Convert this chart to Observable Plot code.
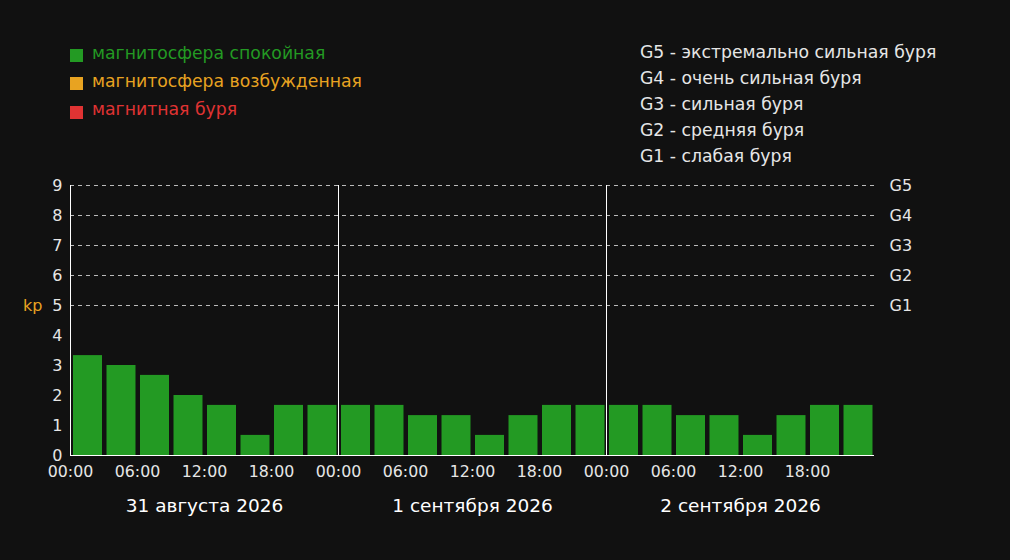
<!DOCTYPE html>
<html>
<head>
<meta charset="utf-8">
<script src="https://cdn.jsdelivr.net/npm/d3@7"></script>
<script src="https://cdn.jsdelivr.net/npm/@observablehq/plot@0.6"></script>
<style>
  html, body { margin: 0; padding: 0; background: #111111; }
  body { width: 1010px; height: 560px; position: relative; overflow: hidden; font-family: "DejaVu Sans", sans-serif; }
  #chart { position: absolute; left: 0; top: 0; z-index: 0; }
  .sw { position: absolute; left: 70px; width: 13px; height: 13px; z-index: 2; }
  .leg { position: absolute; left: 92px; font-size: 17.25px; line-height: 20px; white-space: nowrap; z-index: 2; }
  .scale { position: absolute; left: 640px; top: 39px; color: #e6e6e6; font-size: 17.25px; line-height: 26px; white-space: nowrap; z-index: 2; }
</style>
</head>
<body>
<div id="chart"></div>
<div id="legend"></div>
<div class="scale" id="scale"></div>
<script>
// ---- data ----
const days = ["2026-08-31", "2026-09-01", "2026-09-02"];
const dayLabels = ["31 августа 2026", "1 сентября 2026", "2 сентября 2026"];
const hours = [0, 3, 6, 9, 12, 15, 18, 21];
const kpDay1 = [3.33, 3.0, 2.67, 2.0, 1.67, 0.67, 1.67, 1.67];
const kpDay2 = [1.67, 1.67, 1.33, 1.33, 0.67, 1.33, 1.67, 1.67];
const kpDay3 = [1.67, 1.67, 1.33, 1.33, 0.67, 1.33, 1.67, 1.67];
const gLevels = [5, 6, 7, 8, 9];
const gLabels = ["G1", "G2", "G3", "G4", "G5"];
const scaleTexts = ["G5 - экстремально сильная буря", "G4 - очень сильная буря", "G3 - сильная буря", "G2 - средняя буря", "G1 - слабая буря"];
const legendItems = ["магнитосфера спокойная", "магнитосфера возбужденная", "магнитная буря"];
const legendColors = ["#239a23", "#e8a321", "#e03333"];
const yTicks = [0, 1, 2, 3, 4, 5, 6, 7, 8, 9];

// ---- build table ----
const H = 3600 * 1000;
const allKp = [kpDay1, kpDay2, kpDay3];
const rows = [];
days.forEach((d, i) => {
  const base = new Date(d + "T00:00:00Z");
  hours.forEach((h, j) => {
    const t0 = new Date(+base + h * H);
    rows.push({ t0, t1: new Date(+t0 + 3 * H), kp: allKp[i][j] });
  });
});
const dayStarts = days.map(d => new Date(d + "T00:00:00Z"));
const start = dayStarts[0];
const end = new Date(+dayStarts[dayStarts.length - 1] + 24 * H);
const dayMid = dayStarts.map(d => new Date(+d + 12 * H));
const xTicks = [];
dayStarts.forEach(d => [0, 6, 12, 18].forEach(h => xTicks.push(new Date(+d + h * H))));

function kpColor(v) { return v >= 5 ? legendColors[2] : v >= 4 ? legendColors[1] : legendColors[0]; }

// ---- legend html ----
const leg = document.getElementById("legend");
legendItems.forEach((t, i) => {
  const sw = document.createElement("div");
  sw.className = "sw";
  sw.style.top = (48.5 + i * 28.5) + "px";
  sw.style.background = legendColors[i];
  leg.appendChild(sw);
  const div = document.createElement("div");
  div.className = "leg";
  div.style.top = (43 + i * 28) + "px";
  div.style.color = legendColors[i];
  div.textContent = t;
  leg.appendChild(div);
});
document.getElementById("scale").innerHTML = scaleTexts.map(t => `<div>${t}</div>`).join("");

const txt = "#e6e6e6";
const plot = Plot.plot({
  width: 1010,
  height: 560,
  marginTop: 185,
  marginBottom: 105,
  marginLeft: 70,
  marginRight: 136,
  style: { background: "#111111", color: txt, fontFamily: "DejaVu Sans, sans-serif", fontSize: "16px" },
  x: { type: "utc", domain: [start, end] },
  y: { domain: [0, 9] },
  marks: [
    Plot.ruleY(gLevels, { stroke: "#bbbbbb", strokeDasharray: "4,4", strokeWidth: 1 }),
    Plot.rectY(rows, { x1: "t0", x2: "t1", y: "kp", fill: d => kpColor(d.kp), insetLeft: 3, insetRight: 1.5 }),
    Plot.ruleX(dayStarts, { y1: 0, y2: 9, stroke: "#ffffff", strokeWidth: 1, strokeOpacity: 1 }),
    Plot.ruleY([0], { stroke: "#ffffff", strokeWidth: 1.2 }),
    Plot.axisY(yTicks, { anchor: "left", tickSize: 0, tickPadding: 8, label: null, fill: txt, fontSize: 16 }),
    Plot.axisY(gLevels, { anchor: "right", tickSize: 0, tickPadding: 15, label: null, tickFormat: v => gLabels[gLevels.indexOf(v)], fill: txt, fontSize: 16, textAnchor: "start" }),
    Plot.axisX(xTicks, { anchor: "bottom", tickSize: 0, tickPadding: 10, label: null, tickFormat: d3.utcFormat("%H:%M"), fill: txt, fontSize: 15.8 }),
    Plot.text(["kp"], { frameAnchor: "left", y: [5], dx: -28, textAnchor: "end", fill: "#e8a321", fontSize: 16 }),
    Plot.text(dayLabels, { x: dayMid, frameAnchor: "bottom", dy: 56, fill: "#ffffff", fontSize: 18.5 })
  ]
});
document.getElementById("chart").appendChild(plot);
</script>
</body>
</html>
